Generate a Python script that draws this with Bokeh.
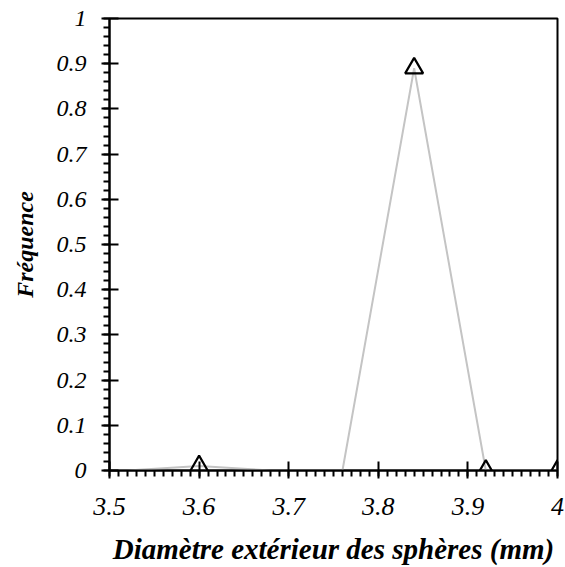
from bokeh.plotting import figure
from bokeh.models import SingleIntervalTicker, CustomJSTickFormatter, Range1d
from bokeh.embed import file_html
from bokeh.resources import INLINE

# data
diam = [3.52, 3.6, 3.68, 3.76, 3.84, 3.92, 4.0]
freq = [0.0, 0.01, 0.0, 0.0, 0.89, 0.0, 0.0]
marker_diam = [3.6, 3.84, 3.92, 4.0]
marker_freq = [0.01, 0.89, 0.0, 0.0]
x_label = "Diamètre extérieur des sphères (mm)"
y_label = "Fréquence"

FONT = "Liberation Serif"

p = figure(width=565, height=567, output_backend="svg", toolbar_location=None,
           x_range=Range1d(3.5, 4.0), y_range=Range1d(0, 1.0),
           min_border_left=109, min_border_right=8, min_border_top=18, min_border_bottom=96)
p.xgrid.visible = False
p.ygrid.visible = False
p.outline_line_color = "black"
p.outline_line_width = 2
p.background_fill_color = "white"
p.border_fill_color = "white"

p.line([3.5] + diam, [0.0] + freq, line_color="#c4c4c4", line_width=2)
p.scatter(marker_diam, marker_freq, marker="triangle", size=18,
          fill_color=None, line_color="black", line_width=2.2)

fmt = CustomJSTickFormatter(code="return String(Number(tick.toFixed(1)));")

for ax, nminor in ((p.xaxis[0], 10), (p.yaxis[0], 5)):
    ax.ticker = SingleIntervalTicker(interval=0.1, num_minor_ticks=nminor)
    ax.formatter = fmt
    ax.axis_line_width = 2
    ax.major_tick_line_width = 2
    ax.minor_tick_line_width = 2
    ax.major_tick_in = 9
    ax.major_tick_out = 8
    ax.minor_tick_in = 0
    ax.minor_tick_out = 6
    ax.major_label_text_font = FONT
    ax.major_label_text_font_style = "italic"
    ax.major_label_text_color = "black"
    ax.axis_label_text_font = FONT
    ax.axis_label_text_font_style = "bold italic"
    ax.axis_label_text_color = "black"

p.xaxis.major_label_text_font_size = "26px"
p.yaxis.major_label_text_font_size = "24px"
p.xaxis.axis_label_text_font_size = "29px"
p.yaxis.axis_label_text_font_size = "24px"
p.xaxis.axis_label = x_label
p.yaxis.axis_label = y_label
p.xaxis.major_label_standoff = 19
p.xaxis.axis_label_standoff = 15
p.yaxis.major_label_standoff = 15
p.yaxis.axis_label_standoff = 16

open("out.html", "w").write(file_html(p, INLINE))
